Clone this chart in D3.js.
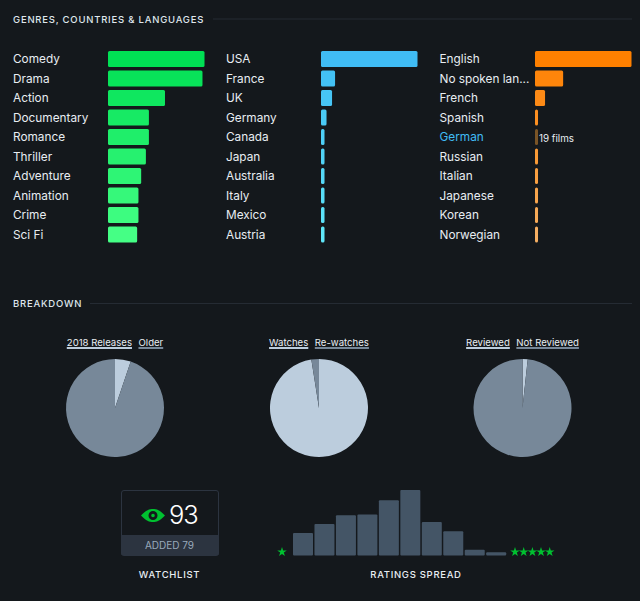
<!DOCTYPE html>
<html><head><meta charset="utf-8">
<script src="https://cdn.jsdelivr.net/npm/d3@7/dist/d3.min.js"></script>
<style>
html,body{margin:0;padding:0;background:#14181c;overflow:hidden}
svg{display:block}
text{font-family:Inter,"Noto Sans",sans-serif}
</style></head><body>
<script>
const genres=["Comedy","Drama","Action","Documentary","Romance","Thriller","Adventure","Animation","Crime","Sci Fi"];
const genreValues=[96,94,56.7,40.7,40.7,37.7,33,30.3,30.3,29];
const countries=["USA","France","UK","Germany","Canada","Japan","Australia","Italy","Mexico","Austria"];
const countryValues=[96,14,11,5.5,3.5,3.5,3.5,3.5,3.5,3.5];
const languages=["English","No spoken lan...","French","Spanish","German","Russian","Italian","Japanese","Korean","Norwegian"];
const languageValues=[96,28,10,3,3,3,3,3,3,3];
const ratings=[22.5,31.5,40.2,41,55.2,65.5,33.5,24.2,5.8,3.2];
const pieSets=[
 {labels:["2018 Releases","Older"],values:[5.2,94.8],colors:["#bccddd","#778899"],start:0},
 {labels:["Watches","Re-watches"],values:[97.5,2.5],colors:["#bccddd","#778899"],start:0},
 {labels:["Reviewed","Not Reviewed"],values:[1.7,98.3],colors:["#bccddd","#778899"],start:0}
];
const svg=d3.select("body").append("svg").attr("width",640).attr("height",601);
function section(t,y,x2,x3){
 svg.append("text").attr("x",13).attr("y",y+3.5).attr("fill","#dfe6ec").attr("font-size",9.5).attr("font-weight",500).attr("letter-spacing",0.78).text(t);
 svg.append("line").attr("x1",x2).attr("x2",x3).attr("y1",y).attr("y2",y).attr("stroke","#252b33");
}
section("GENRES, COUNTRIES & LANGUAGES",19,213,632);
section("BREAKDOWN",303.5,90,632);
const y=d3.scaleBand().domain(d3.range(10)).range([51,242.5]).paddingInner(0.18).paddingOuter(0);
function barGroup(names,vals,lx,bx,c0,c1){
 const x=d3.scaleLinear().domain([0,96]).range([bx,bx+96.5]);
 const col=d3.scaleLinear().domain([0,9]).range([c0,c1]);
 const g=svg.append("g");
 g.selectAll("text").data(names).join("text").attr("x",lx).attr("y",(d,i)=>y(i)+12.2)
  .attr("fill",d=>d==="German"?"#40bcf4":"#e8edf2").attr("font-size",11.8).attr("font-weight",400).text(d=>d);
 g.selectAll("rect").data(vals).join("rect").attr("x",bx).attr("y",(d,i)=>y(i)).attr("width",d=>x(d)-bx).attr("height",y.bandwidth()).attr("rx",1.5)
  .attr("fill",(d,i)=>names[i]==="German"?"#7a5426":col(i));
}
barGroup(genres,genreValues,13,108,"#00e054","#45ff85");
barGroup(countries,countryValues,226,321,"#40bcf4","#5fe6f8");
barGroup(languages,languageValues,439.5,535,"#ff8000","#f5ae62");
svg.append("text").attr("x",539).attr("y",142).attr("fill","#e8edf2").attr("font-size",9.8).attr("font-weight",400).text("19 films");
const cxs=[115,319,522.5];
const arc=d3.arc().innerRadius(0).outerRadius(49);
pieSets.forEach((p,i)=>{
 const g=svg.append("g").attr("transform",`translate(${cxs[i]},408)`);
 const pie=d3.pie().sort(null).startAngle(p.start).endAngle(p.start+2*Math.PI);
 g.selectAll("path").data(pie(p.values)).join("path").attr("d",arc).attr("fill",(d,j)=>p.colors[j]);
 const lg=svg.append("g");
 const txt=lg.selectAll("text").data(p.labels).join("text").attr("y",345.5).attr("fill","#e8edf2").attr("font-size",9.6).attr("font-weight",400).text(d=>d);
 const w=[];txt.each(function(){w.push(this.getComputedTextLength())});
 const gap=6.5;let x0=cxs[i]-(w[0]+w[1]+gap)/2;
 txt.attr("x",(d,j)=>j?x0+w[0]+gap:x0);
 p.labels.forEach((l,j)=>lg.append("rect").attr("x",j?x0+w[0]+gap:x0).attr("y",347).attr("width",w[j]).attr("height",2).attr("fill",p.colors[j]));
});
// watchlist
const watchlistCount=["93"],watchlistAdded=["ADDED 79"];
const wg=svg.append("g");
wg.append("rect").attr("x",121.5).attr("y",490.5).attr("width",97).attr("height",65).attr("rx",2.5).attr("fill","none").attr("stroke","#2c3440");
wg.append("path").attr("d","M121,535H219V553a2.5,2.5 0 0 1 -2.5,2.5H123.5a2.5,2.5 0 0 1 -2.5,-2.5Z").attr("fill","#2c3440");
wg.append("path").attr("fill-rule","evenodd").attr("fill","#00c030")
 .attr("d","M141,515.5C146,510 149.5,509 153,509C156.5,509 160,510 165,515.5C160,521 156.5,522 153,522C149.5,522 146,521 141,515.5ZM153,511A4.5,4.5 0 1 0 153,520A4.5,4.5 0 1 0 153,511ZM153,513.7A1.8,1.8 0 1 1 153,517.3A1.8,1.8 0 1 1 153,513.7Z");
wg.append("text").attr("x",169).attr("y",524).attr("fill","#fff").attr("font-size",25.5).attr("font-weight",300).attr("letter-spacing",-1.1).text(watchlistCount[0]);
wg.append("text").attr("x",169.5).attr("y",549).attr("text-anchor","middle").attr("fill","#9ab").attr("font-size",10).text(watchlistAdded[0]);
function caption(t,x){svg.append("text").attr("x",x).attr("y",578).attr("text-anchor","middle").attr("fill","#e8edf2").attr("font-size",9.5).attr("font-weight",500).attr("letter-spacing",0.7).text(t);}
caption("WATCHLIST",169.5);caption("RATINGS SPREAD",416);
// ratings
const rx=d3.scaleBand().domain(d3.range(10)).range([293,506.2]).paddingInner(0.068).paddingOuter(0);
const ry=d3.scaleLinear().domain([0,65.5]).range([555.5,490]);
svg.append("g").selectAll("rect").data(ratings).join("rect").attr("x",(d,i)=>rx(i)).attr("y",d=>ry(d)).attr("width",rx.bandwidth()).attr("height",d=>ry(0)-ry(d)).attr("rx",1).attr("fill","#445566");
const star=d3.symbol().type(d3.symbolStar).size(28);
[282,515,523.7,532.4,541,549.7].forEach(x=>svg.append("path").attr("d",star()).attr("transform",`translate(${x},552)`).attr("fill","#00c030"));
</script></body></html>
